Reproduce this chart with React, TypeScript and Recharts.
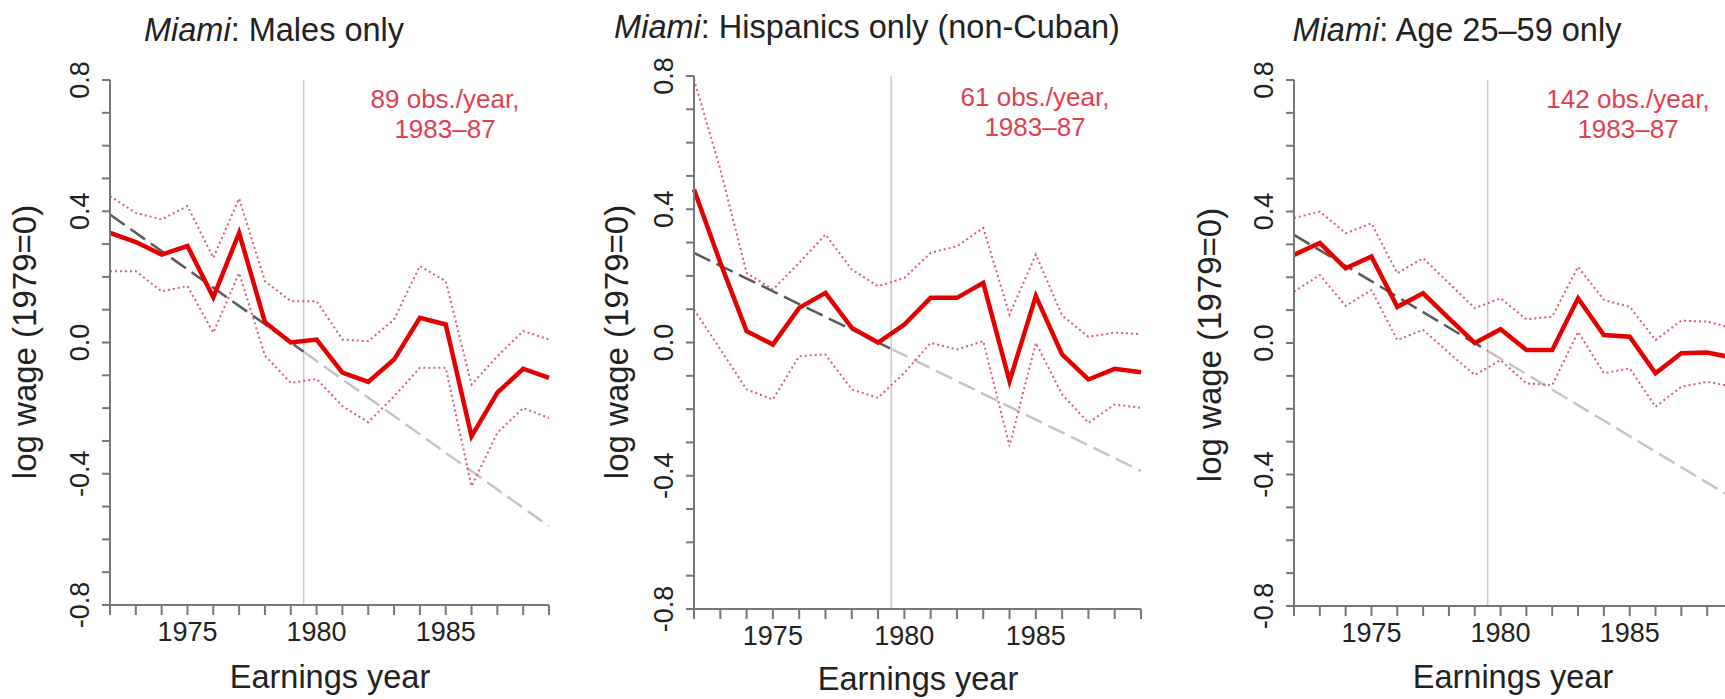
import React from 'react';
import { LineChart, Line, XAxis, YAxis, ReferenceLine } from 'recharts';

const years = [1972, 1973, 1974, 1975, 1976, 1977, 1978, 1979, 1980, 1981, 1982, 1983, 1984, 1985, 1986, 1987, 1988, 1989];
const xTickLabels = [1975, 1980, 1985];
const yTicks = [-0.8, -0.7, -0.6, -0.5, -0.4, -0.3, -0.2, -0.1, 0, 0.1, 0.2, 0.3, 0.4, 0.5, 0.6, 0.7, 0.8];
const yLabelValues = [0.8, 0.4, 0, -0.4, -0.8];
const yLabelTexts = ['0.8', '0.4', '0.0', '-0.4', '-0.8'];
const breakYear = 1979.5;

// Panel 1: Males only
const malesMain = [0.334, 0.306, 0.268, 0.294, 0.138, 0.334, 0.062, 0.0, 0.009, -0.092, -0.12, -0.052, 0.075, 0.055, -0.286, -0.153, -0.08, -0.108];
const malesUpper = [0.446, 0.395, 0.375, 0.416, 0.258, 0.439, 0.187, 0.126, 0.126, 0.009, 0.004, 0.07, 0.233, 0.187, -0.128, -0.042, 0.035, 0.009];
const malesLower = [0.217, 0.217, 0.156, 0.172, 0.03, 0.212, -0.04, -0.123, -0.111, -0.194, -0.243, -0.164, -0.077, -0.077, -0.438, -0.275, -0.2, -0.23];
const malesTrend = [0.39, -0.028, -0.56];

// Panel 2: Hispanics only (non-Cuban)
const hispMain = [0.459, 0.24, 0.034, -0.006, 0.104, 0.149, 0.044, 0.0, 0.054, 0.134, 0.134, 0.179, -0.116, 0.139, -0.036, -0.111, -0.079, -0.089];
const hispUpper = [0.79, 0.52, 0.209, 0.159, 0.239, 0.324, 0.219, 0.169, 0.194, 0.269, 0.289, 0.344, 0.084, 0.264, 0.081, 0.017, 0.03, 0.025];
const hispLower = [0.099, -0.02, -0.141, -0.171, -0.041, -0.036, -0.141, -0.166, -0.091, -0.001, -0.021, 0.004, -0.311, -0.001, -0.156, -0.241, -0.186, -0.196];
const hispTrend = [0.269, -0.019, -0.386];

// Panel 3: Age 25-59 only
const ageMain = [0.268, 0.304, 0.227, 0.263, 0.11, 0.151, 0.075, 0.0, 0.042, -0.021, -0.021, 0.136, 0.024, 0.019, -0.092, -0.031, -0.029, -0.045];
const ageUpper = [0.38, 0.4, 0.334, 0.364, 0.212, 0.258, 0.182, 0.106, 0.136, 0.072, 0.08, 0.232, 0.131, 0.11, 0.009, 0.068, 0.065, 0.045];
const ageLower = [0.156, 0.207, 0.113, 0.161, 0.009, 0.04, -0.03, -0.097, -0.052, -0.123, -0.128, 0.034, -0.092, -0.077, -0.194, -0.133, -0.118, -0.133];
const ageTrend = [0.329, -0.024, -0.472];

const titles = ['Males only', 'Hispanics only (non-Cuban)', 'Age 25\u201359 only'];
const obsLines = ['89 obs./year,', '61 obs./year,', '142 obs./year,'];
const periodLine = '1983\u201387';

const FONT = '"Liberation Sans", Arial, Helvetica, sans-serif';
const RED = '#e50000';
const CI = '#dc5a74';
const NOTE = '#e0404e';
const AXIS = '#777777';
const TEXT = '#222222';

type PanelProps = {
  left: number;
  width: number;
  margin: { top: number; right: number; bottom: number; left: number };
  main: number[];
  upper: number[];
  lower: number[];
  trend: number[];
};

const YTick = (props: any) => {
  const { x, y, payload } = props;
  const idx = yLabelValues.findIndex((v) => Math.abs(v - payload.value) < 1e-9);
  if (idx < 0) return <g />;
  return (
    <text x={x} y={y} transform={`rotate(-90, ${x}, ${y})`} textAnchor="middle" fontSize={27} fill={TEXT} fontFamily={FONT}>
      {yLabelTexts[idx]}
    </text>
  );
};

const XTick = (props: any) => {
  const { x, y, payload } = props;
  if (!xTickLabels.includes(payload.value)) return <g />;
  return (
    <text x={x} y={y} textAnchor="middle" fontSize={27} fill={TEXT} fontFamily={FONT}>
      {payload.value}
    </text>
  );
};

const Panel = ({ left, width, margin, main, upper, lower, trend }: PanelProps) => {
  const data = years.map((yr, i) => ({ year: yr, main: main[i], upper: upper[i], lower: lower[i] }));
  const trendDark = [
    { year: years[0], trend: trend[0] },
    { year: breakYear, trend: trend[1] },
  ];
  const trendLight = [
    { year: breakYear, trend: trend[1] },
    { year: years[years.length - 1], trend: trend[2] },
  ];
  return (
    <div style={{ position: 'absolute', left, top: 0 }}>
      <LineChart width={width} height={699} data={data} margin={margin}>
        <XAxis
          dataKey="year"
          type="number"
          domain={[1972, 1989]}
          ticks={years}
          interval={0}
          allowDecimals={false}
          height={50}
          tickSize={10}
          tickMargin={26}
          axisLine={{ stroke: AXIS, strokeWidth: 2 }}
          tickLine={{ stroke: AXIS, strokeWidth: 2 }}
          tick={<XTick />}
        />
        <YAxis
          type="number"
          domain={[-0.8, 0.8]}
          ticks={yTicks}
          interval={0}
          width={60}
          tickSize={8}
          tickMargin={13}
          axisLine={{ stroke: AXIS, strokeWidth: 2 }}
          tickLine={{ stroke: AXIS, strokeWidth: 2 }}
          tick={<YTick />}
          allowDataOverflow
        />
        <ReferenceLine x={breakYear} stroke="#c9c9c9" strokeWidth={1.5} />
        <Line data={trendDark} dataKey="trend" stroke="#5a5a5a" strokeWidth={2.5} strokeDasharray="18 7" dot={false} isAnimationActive={false} />
        <Line data={trendLight} dataKey="trend" stroke="#c4c4c4" strokeWidth={2.5} strokeDasharray="18 7" dot={false} isAnimationActive={false} />
        <Line dataKey="upper" stroke={CI} strokeWidth={2} strokeDasharray="2 3" dot={false} isAnimationActive={false} />
        <Line dataKey="lower" stroke={CI} strokeWidth={2} strokeDasharray="2 3" dot={false} isAnimationActive={false} />
        <Line dataKey="main" stroke={RED} strokeWidth={4.5} strokeLinejoin="miter" dot={false} isAnimationActive={false} />
      </LineChart>
    </div>
  );
};

const Title = ({ x, y, rest }: { x: number; y: number; rest: string }) => (
  <text x={x} y={y} textAnchor="middle" fontSize={32.5} fill={TEXT} fontFamily={FONT}>
    <tspan fontStyle="italic">Miami</tspan>
    <tspan>{': ' + rest}</tspan>
  </text>
);

const Note = ({ x, y1, y2, first }: { x: number; y1: number; y2: number; first: string }) => (
  <g fontSize={26} fill={NOTE} fontFamily={FONT} textAnchor="middle">
    <text x={x} y={y1}>{first}</text>
    <text x={x} y={y2}>{periodLine}</text>
  </g>
);

const YLab = ({ x, y }: { x: number; y: number }) => (
  <text x={x} y={y} transform={`rotate(-90, ${x}, ${y})`} textAnchor="middle" fontSize={33} fill={TEXT} fontFamily={FONT}>
    log wage (1979=0)
  </text>
);

const XLab = ({ x, y }: { x: number; y: number }) => (
  <text x={x} y={y} textAnchor="middle" fontSize={32.5} fill={TEXT} fontFamily={FONT}>
    Earnings year
  </text>
);

export default function App() {
  return (
    <div style={{ position: 'absolute', left: 0, top: 0, width: 1725, height: 699, overflow: 'hidden', background: '#ffffff' }}>
      <Panel left={0} width={580} margin={{ top: 80, right: 31, bottom: 44, left: 50 }} main={malesMain} upper={malesUpper} lower={malesLower} trend={malesTrend} />
      <Panel left={580} width={600} margin={{ top: 76, right: 39, bottom: 40, left: 54 }} main={hispMain} upper={hispUpper} lower={hispLower} trend={hispTrend} />
      <Panel left={1160} width={600} margin={{ top: 80, right: 27, bottom: 43, left: 74 }} main={ageMain} upper={ageUpper} lower={ageLower} trend={ageTrend} />
      <svg width={1725} height={699} style={{ position: 'absolute', left: 0, top: 0, pointerEvents: 'none' }}>
        <Title x={274} y={41} rest={titles[0]} />
        <Title x={867} y={38} rest={titles[1]} />
        <Title x={1457} y={41} rest={titles[2]} />
        <YLab x={36} y={342} />
        <YLab x={628} y={342} />
        <YLab x={1221} y={345} />
        <XLab x={330} y={688} />
        <XLab x={918} y={690} />
        <XLab x={1513} y={688} />
        <Note x={445} y1={108} y2={138} first={obsLines[0]} />
        <Note x={1035} y1={106} y2={136} first={obsLines[1]} />
        <Note x={1628} y1={108} y2={138} first={obsLines[2]} />
      </svg>
    </div>
  );
}
